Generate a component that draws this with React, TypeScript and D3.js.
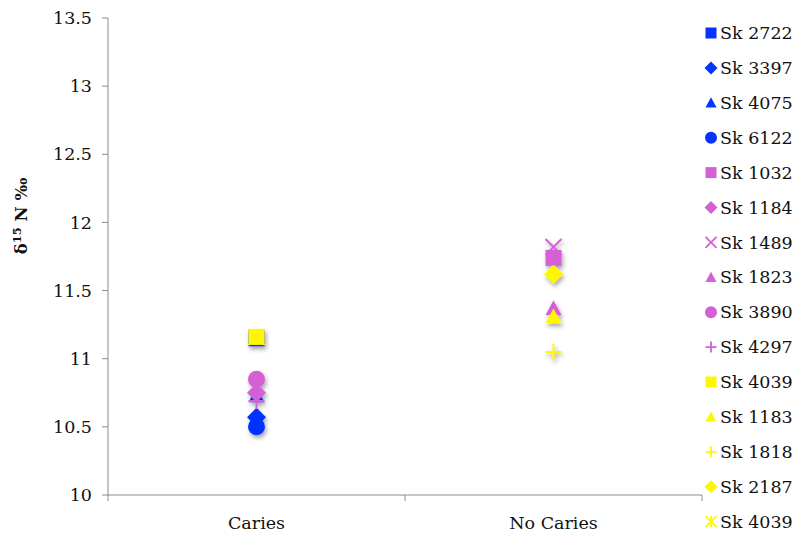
import React from "react";
import * as d3 from "d3";

const categories = ["Caries", "No Caries"];
const yTicks = [10, 10.5, 11, 11.5, 12, 12.5, 13, 13.5];
const seriesNames = ["Sk 2722", "Sk 3397", "Sk 4075", "Sk 6122", "Sk 1032", "Sk 1184", "Sk 1489", "Sk 1823", "Sk 3890", "Sk 4297", "Sk 4039", "Sk 1183", "Sk 1818", "Sk 2187", "Sk 4039"];
const seriesShapes = ["square", "diamond", "triangle", "circle", "square", "diamond", "x", "triangle", "circle", "plus", "square", "triangle", "plus", "diamond", "star"];
const seriesColors = ["#0433FF", "#0433FF", "#0433FF", "#0433FF", "#D55FD5", "#D55FD5", "#D55FD5", "#D55FD5", "#D55FD5", "#D55FD5", "#FFF700", "#FFF700", "#FFF700", "#FFF700", "#FFF700"];
const seriesCategory = ["Caries", "Caries", "Caries", "Caries", "No Caries", "Caries", "No Caries", "No Caries", "Caries", "Caries", "Caries", "No Caries", "No Caries", "No Caries", "Caries"];
const seriesValues = [11.15, 10.57, 10.73, 10.5, 11.74, 10.75, 11.82, 11.37, 10.85, 10.69, 11.16, 11.31, 11.05, 11.62, 11.16];

function shapePath(shape: string, r: number): string {
  switch (shape) {
    case "square":
      return `M${-r},${-r}H${r}V${r}H${-r}Z`;
    case "diamond":
      return `M0,${-r}L${r},0L0,${r}L${-r},0Z`;
    case "triangle":
      return `M0,${-r}L${r},${r * 0.85}L${-r},${r * 0.85}Z`;
    case "circle":
      return `M${r},0A${r},${r} 0 1,1 ${-r},0A${r},${r} 0 1,1 ${r},0Z`;
    case "plus":
      return `M${-r},0H${r}M0,${-r}V${r}`;
    case "x":
      return `M${-r},${-r}L${r},${r}M${-r},${r}L${r},${-r}`;
    case "star":
      return `M${-r},${-r}L${r},${r}M${-r},${r}L${r},${-r}M0,${-r}V${r}`;
  }
  return "";
}
const isLine = (s: string) => s === "plus" || s === "x" || s === "star";

export default function App() {
  const W = 797, H = 533;
  const x = d3.scaleBand<string>().domain(categories).range([108, 702]);
  const y = d3.scaleLinear().domain([10, 13.5]).range([495, 18]);
  const font = "'DejaVu Serif', 'Liberation Serif', serif";
  const axisColor = "#8c8c8c";
  const fs = 17.5;

  return (
    <svg width={W} height={H} style={{ position: "absolute", left: 0, top: 0 }} fontFamily={font}>
      <defs>
        <filter id="sh" x="-50%" y="-50%" width="200%" height="200%">
          <feDropShadow dx="1.5" dy="3" stdDeviation="2" floodColor="#000" floodOpacity="0.35" />
        </filter>
      </defs>
      <rect width={W} height={H} fill="#fff" />
      {/* y axis */}
      <line x1={108} x2={108} y1={y(13.5)} y2={y(10)} stroke={axisColor} strokeWidth={1} />
      {yTicks.map((t) => (
        <g key={t}>
          <line x1={102} x2={108} y1={y(t)} y2={y(t)} stroke={axisColor} />
          <text x={92} y={y(t)} dy="0.35em" textAnchor="end" fontSize={fs} fill="#111">{t}</text>
        </g>
      ))}
      {/* x axis */}
      <line x1={108} x2={702} y1={495} y2={495} stroke={axisColor} />
      {[108, ...categories.map((c) => (x(c) as number) + x.bandwidth())].map((v, i) => (
        <line key={i} x1={v} x2={v} y1={495} y2={501} stroke={axisColor} />
      ))}
      {categories.map((c) => (
        <text key={c} x={(x(c) as number) + x.bandwidth() / 2} y={523} dy="0.35em" textAnchor="middle" fontSize={fs} fill="#111">{c}</text>
      ))}
      {/* y label */}
      <text transform="translate(27,216) rotate(-90)" textAnchor="middle" fontSize={16.5} fontWeight="bold" fill="#111">
        δ<tspan fontSize={11.5} dy={-6}>15</tspan><tspan dy={6}> N ‰</tspan>
      </text>
      {/* points */}
      <g filter="url(#sh)">
        {seriesNames.map((n, i) => {
          const cx = (x(seriesCategory[i]) as number) + x.bandwidth() / 2;
          const cy = y(seriesValues[i]);
          const s = seriesShapes[i];
          const r = s === "diamond" ? 9.5 : s === "circle" ? 8.5 : 8;
          return (
            <path key={i} transform={`translate(${cx},${cy})`} d={shapePath(s, r)}
              fill={isLine(s) ? "none" : seriesColors[i]}
              stroke={isLine(s) ? seriesColors[i] : "none"} strokeWidth={2} />
          );
        })}
      </g>
      {/* legend */}
      {seriesNames.map((n, i) => {
        const ly = 33 + i * 34.9;
        const s = seriesShapes[i];
        const r = s === "diamond" ? 6.5 : s === "circle" ? 6 : 5.5;
        return (
          <g key={i}>
            <path transform={`translate(711,${ly})`} d={shapePath(s, r)}
              fill={isLine(s) ? "none" : seriesColors[i]}
              stroke={isLine(s) ? seriesColors[i] : "none"} strokeWidth={1.8} />
            <text x={720} y={ly} dy="0.35em" fontSize={fs} fill="#111">{n}</text>
          </g>
        );
      })}
    </svg>
  );
}
